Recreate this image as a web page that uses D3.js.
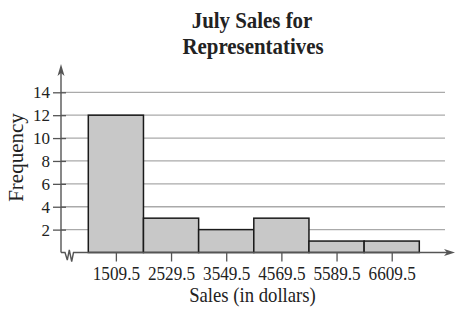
<!DOCTYPE html>
<html><head><meta charset="utf-8">
<script src="https://cdn.jsdelivr.net/npm/d3@7"></script>
<style>body{margin:0;background:#fff}svg{display:block}text{font-family:"Liberation Serif","Times New Roman",serif;fill:#222}</style>
</head><body><svg id="c" width="455" height="309"></svg>
<script>
const midpoints = [1509.5, 2529.5, 3549.5, 4569.5, 5589.5, 6609.5];
const frequencies = [12, 3, 2, 3, 1, 1];
const yTicks = [2, 4, 6, 8, 10, 12, 14];
const classWidth = 1020;
const titleLines = ["July Sales for", "Representatives"];

const svg = d3.select("#c");
const x = d3.scaleLinear().domain([midpoints[0] - classWidth/2, midpoints[midpoints.length-1] + classWidth/2]).range([88.3, 419.3]);
const y = d3.scaleLinear().domain([0, 14]).range([252.5, 92.3]);
const ax = 61;

// gridlines
svg.append("g").selectAll("line").data(yTicks).join("line")
  .attr("x1", ax).attr("x2", 445).attr("y1", d => y(d)).attr("y2", d => y(d))
  .attr("stroke", "#aaa").attr("stroke-width", 1.3);

// bars
svg.append("g").selectAll("rect").data(midpoints).join("rect")
  .attr("x", d => x(d - classWidth/2)).attr("width", d => x(d + classWidth/2) - x(d - classWidth/2))
  .attr("y", (d,i) => y(frequencies[i])).attr("height", (d,i) => y(0) - y(frequencies[i]))
  .attr("fill", "#c8c8c8").attr("stroke", "#1a1a1a").attr("stroke-width", 1.5);

// y axis
const yAxis = d3.axisLeft(y).tickValues(yTicks).tickSize(0).tickPadding(11);
const gy = svg.append("g").attr("transform", `translate(${ax},0)`).call(yAxis);
gy.select(".domain").remove();
gy.selectAll("text").attr("font-size", 17).attr("fill", "#222").attr("font-family", "Liberation Serif");
gy.selectAll(".tick").append("line").attr("x1", -8).attr("x2", 5).attr("stroke", "#555").attr("stroke-width", 1.3);

svg.append("line").attr("x1", ax).attr("x2", ax).attr("y1", 70).attr("y2", 252.5).attr("stroke", "#555").attr("stroke-width", 1.4);
svg.append("path").attr("d", `M${ax},64 L${ax-3.5},76 L${ax},73 L${ax+3.5},76 Z`).attr("fill", "#555");

// x axis
const xAxis = d3.axisBottom(x).tickValues(midpoints).tickSize(9).tickFormat(d3.format(".1f"));
const gx = svg.append("g").attr("transform", `translate(0,${y(0)})`).call(xAxis);
gx.select(".domain").remove();
gx.selectAll("line").attr("stroke", "#555").attr("stroke-width", 1.3);
gx.selectAll("text").attr("font-size", 18.5).attr("fill", "#222").attr("font-family", "Liberation Serif")
  .attr("y", 27.5).attr("dy", 0).attr("transform", "scale(0.93,1)");

svg.append("path").attr("d", `M${ax},252.5 L65,252.5 L67.3,260 L69.3,250 L71.7,261.5 L73.5,252.5 L447,252.5`)
  .attr("fill", "none").attr("stroke", "#555").attr("stroke-width", 1.4);
svg.append("path").attr("d", `M455,252.5 L444,249 L447,252.5 L444,256 Z`).attr("fill", "#555");

// titles
svg.append("text").attr("transform", "translate(252,28.3) scale(0.87,1)").attr("text-anchor", "middle").attr("font-size", 24).attr("font-weight", "bold").text(titleLines[0]);
svg.append("text").attr("transform", "translate(253,54) scale(0.87,1)").attr("text-anchor", "middle").attr("font-size", 24).attr("font-weight", "bold").text(titleLines[1]);
svg.append("text").attr("transform", "translate(252.5,301.5) scale(0.85,1)").attr("text-anchor", "middle").attr("font-size", 22).text("Sales (in dollars)");
svg.append("text").attr("transform", "translate(22.5,157.5) rotate(-90)").attr("text-anchor", "middle").attr("font-size", 21).text("Frequency");
</script></body></html>
